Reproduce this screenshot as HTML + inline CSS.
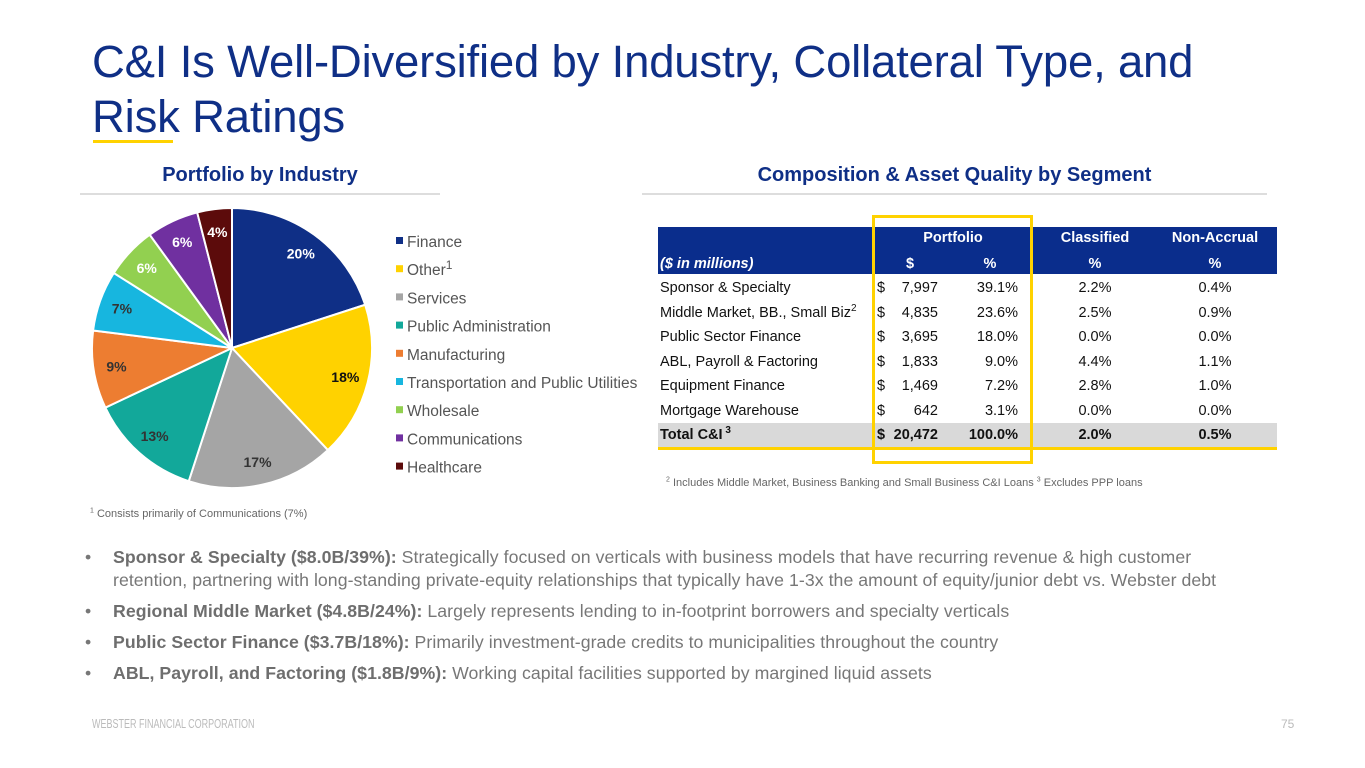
<!DOCTYPE html>
<html><head><meta charset="utf-8"><style>
body{margin:0;width:1365px;height:768px;background:#fff;font-family:"Liberation Sans",sans-serif;position:relative;overflow:hidden}
.abs{position:absolute}
.title{left:92px;top:34px;font-size:45.5px;color:#0f2f86;line-height:55px;letter-spacing:-0.2px;white-space:nowrap}
.sec{font-size:20px;font-weight:bold;color:#0f2f86;text-align:center}
.bul{left:85px;font-size:17.7px;color:#777;line-height:23px;white-space:nowrap;letter-spacing:0.05px}
.bul b{color:#6e6e6e}
.bul .d{display:inline-block;width:28px}
.cell{position:absolute;font-size:14.5px;color:#111;white-space:nowrap;line-height:18px}
sup{line-height:0}
</style></head><body>
<div class="abs title">C&amp;I Is Well-Diversified by Industry, Collateral Type, and<br>Risk Ratings</div>
<div class="abs" style="left:93px;top:140px;width:80px;height:3px;background:#ffd200"></div>
<div class="abs sec" style="left:80px;top:164px;width:360px">Portfolio by Industry</div>
<div class="abs" style="left:80px;top:193px;width:360px;height:2px;background:#ddd"></div>
<div class="abs sec" style="left:642px;top:164px;width:625px">Composition &amp; Asset Quality by Segment</div>
<div class="abs" style="left:642px;top:193px;width:625px;height:2px;background:#ddd"></div>

<svg class="abs" style="left:0;top:0" width="660" height="520" id="pie"></svg>
<div class="abs" style="left:90px;top:508px;font-size:11px;color:#666"><sup style="font-size:7px">1</sup> Consists primarily of Communications (7%)</div>

<div id="tbl">
<div class="abs" style="left:658px;top:227px;width:619px;height:47px;background:#0a2d8c"></div>
<div class="abs" style="left:658px;top:423px;width:619px;height:25px;background:#d9d9d9"></div>
<div class="abs" style="left:658px;top:447px;width:619px;height:3px;background:#ffd200"></div>
<div class="abs" style="left:872px;top:215px;width:155px;height:243px;border:3px solid #ffd200"></div>
</div>
<div class="abs" style="left:666px;top:477px;font-size:11px;color:#666"><sup style="font-size:7px">2</sup> Includes Middle Market, Business Banking and Small Business C&amp;I Loans <sup style="font-size:7px">3</sup> Excludes PPP loans</div>

<div class="abs bul" style="top:546px"><span class="d">•</span><b>Sponsor &amp; Specialty ($8.0B/39%):</b> Strategically focused on verticals with business models that have recurring revenue &amp; high customer<br><span style="padding-left:28px">retention, partnering with long-standing private-equity relationships that typically have 1-3x the amount of equity/junior debt vs. Webster debt</span></div>
<div class="abs bul" style="top:600px"><span class="d">•</span><b>Regional Middle Market ($4.8B/24%):</b> Largely represents lending to in-footprint borrowers and specialty verticals</div>
<div class="abs bul" style="top:631px"><span class="d">•</span><b>Public Sector Finance ($3.7B/18%):</b> Primarily investment-grade credits to municipalities throughout the country</div>
<div class="abs bul" style="top:662px"><span class="d">•</span><b>ABL, Payroll, and Factoring ($1.8B/9%):</b> Working capital facilities supported by margined liquid assets</div>
<div class="abs" style="left:92px;top:717px;font-size:12.5px;color:#bbb;transform:scaleX(0.72);transform-origin:left">WEBSTER FINANCIAL CORPORATION</div>
<div class="abs" style="left:1281px;top:717px;font-size:12px;color:#bbb">75</div>

<script>
const categories=["Finance","Other","Services","Public Administration","Manufacturing","Transportation and Public Utilities","Wholesale","Communications","Healthcare"];
const shares=[20,18,17,13,9,7,6,6,4];
const colors=["#0f2f86","#ffd200","#a5a5a5","#12a89a","#ed7d31","#17b6df","#92d050","#7030a0","#5c0b0b"];
const labelColors=["#fff","#111","#333","#333","#333","#333","#fff","#fff","#fff"];
const rowLabels=["Sponsor & Specialty","Middle Market, BB., Small Biz","Public Sector Finance","ABL, Payroll & Factoring","Equipment Finance","Mortgage Warehouse","Total C&I"];
const rowSup=["","2","","","","","3"];
const portfolioAmt=["7,997","4,835","3,695","1,833","1,469","642","20,472"];
const portfolioPct=["39.1%","23.6%","18.0%","9.0%","7.2%","3.1%","100.0%"];
const classifiedPct=["2.2%","2.5%","0.0%","4.4%","2.8%","0.0%","2.0%"];
const nonAccrualPct=["0.4%","0.9%","0.0%","1.1%","1.0%","0.0%","0.5%"];

const NS="http://www.w3.org/2000/svg";
const svg=document.getElementById('pie');
const cx=232,cy=348,R=140;
const total=shares.reduce((a,b)=>a+b,0);
let a0=0;
shares.forEach((v,i)=>{
  const a1=a0+v/total*2*Math.PI;
  const p=t=>[cx+R*Math.sin(t),cy-R*Math.cos(t)];
  const [x0,y0]=p(a0),[x1,y1]=p(a1);
  const path=document.createElementNS(NS,'path');
  path.setAttribute('d',`M${cx},${cy}L${x0},${y0}A${R},${R} 0 ${a1-a0>Math.PI?1:0} 1 ${x1},${y1}Z`);
  path.setAttribute('fill',colors[i]);path.setAttribute('stroke','#fff');path.setAttribute('stroke-width','2');
  
  
  svg.appendChild(path);
  const am=(a0+a1)/2,lr=117;
  const t=document.createElementNS(NS,'text');
  t.setAttribute('x',cx+lr*Math.sin(am));t.setAttribute('y',cy-lr*Math.cos(am)+5);
  t.setAttribute('text-anchor','middle');t.setAttribute('font-size','14');t.setAttribute('font-weight','bold');
  t.setAttribute('fill',labelColors[i]);t.textContent=shares[i]+'%';
  
  
  svg.appendChild(t);
  const ly=242+i*28.2;
  const r=document.createElementNS(NS,'rect');
  r.setAttribute('x',396);r.setAttribute('y',ly-5);r.setAttribute('width',7);r.setAttribute('height',7);r.setAttribute('fill',colors[i]);
  
  
  svg.appendChild(r);
  const lt=document.createElementNS(NS,'text');
  lt.setAttribute('x',407);lt.setAttribute('y',ly+5);lt.setAttribute('font-size','15.5');lt.setAttribute('fill','#555');
  lt.textContent=categories[i];
  if(i===1){const s=document.createElementNS(NS,'tspan');s.setAttribute('dy','-6');s.setAttribute('font-size','12');s.textContent='1';lt.appendChild(s);}
  
  
  svg.appendChild(lt);
  a0=a1;
});

const tbl=document.getElementById('tbl');
function cell(txt,x,y,opts){
  const d=document.createElement('div');d.className='cell';
  d.style.top=(y-9)+'px';
  if(opts.align==='right'){d.style.right=(1365-x)+'px';}
  else if(opts.align==='center'){d.style.left=(x-50)+'px';d.style.width='100px';d.style.textAlign='center';}
  else d.style.left=x+'px';
  if(opts.color)d.style.color=opts.color;
  if(opts.bold)d.style.fontWeight='bold';
  if(opts.italic)d.style.fontStyle='italic';
  d.innerHTML=txt;
  
  
  tbl.appendChild(d);
}
const W={color:'#fff',bold:true};
cell('Portfolio',953,238,{...W,align:'center',name:'header-portfolio'});
cell('Classified',1095,238,{...W,align:'center',name:'header-classified'});
cell('Non-Accrual',1215,238,{...W,align:'center',name:'header-non-accrual'});
cell('($ in millions)',660,264,{...W,italic:true,name:'header-units'});
cell('$',910,264,{...W,align:'center',name:'header-dollar'});
cell('%',990,264,{...W,align:'center',name:'header-pct'});
cell('%',1095,264,{...W,align:'center',name:'header-classified-pct'});
cell('%',1215,264,{...W,align:'center',name:'header-nonaccrual-pct'});
rowLabels.forEach((lab,i)=>{
  const y=288+i*24.5, b=i===6;
  const o={bold:b};
  cell(lab.replace('&','&amp;')+(rowSup[i]?'<sup style="font-size:10px">'+(b?' ':'')+rowSup[i]+'</sup>':''),660,y,{...o,name:'row-label'});
  cell('$',877,y,{...o,name:'row-dollar-sign'});
  cell(portfolioAmt[i],938,y,{...o,align:'right',name:'row-amount'});
  cell(portfolioPct[i],1018,y,{...o,align:'right',name:'row-portfolio-pct'});
  cell(classifiedPct[i],1095,y,{...o,align:'center',name:'row-classified-pct'});
  cell(nonAccrualPct[i],1215,y,{...o,align:'center',name:'row-nonaccrual-pct'});
});
</script>
</body></html>
